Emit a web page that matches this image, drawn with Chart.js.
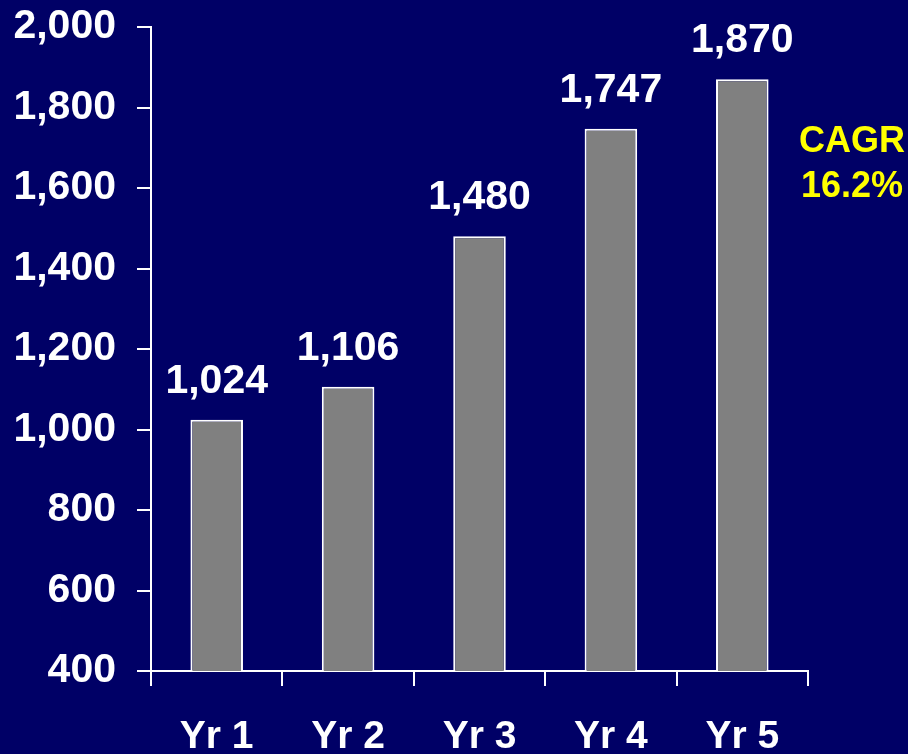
<!DOCTYPE html>
<html>
<head>
<meta charset="utf-8">
<script src="https://cdn.jsdelivr.net/npm/chart.js@4"></script>
<style>
  html, body { margin: 0; padding: 0; background: #000066; }
  #wrap { width: 908px; height: 754px; }
</style>
</head>
<body>
<div id="wrap"><canvas id="c" width="908" height="754"></canvas></div>
<script>
const categories = ["Yr 1", "Yr 2", "Yr 3", "Yr 4", "Yr 5"];
const revenue = [1024, 1106, 1480, 1747, 1870];
const yTicks = [400, 600, 800, 1000, 1200, 1400, 1600, 1800, 2000];
const cagrLines = ["CAGR", "16.2%"];

const FONT = "'Liberation Sans', Arial, sans-serif";
const fmt = v => Number(v).toLocaleString('en-US');

const bgPlugin = {
  id: 'bg',
  beforeDraw(chart) {
    const ctx = chart.ctx;
    ctx.save();
    ctx.fillStyle = '#000066';
    ctx.fillRect(0, 0, chart.width, chart.height);
    ctx.restore();
  }
};

const labelPlugin = {
  id: 'valueLabels',
  afterDatasetsDraw(chart) {
    const ctx = chart.ctx;
    const meta = chart.getDatasetMeta(0);
    ctx.save();
    ctx.fillStyle = '#ffffff';
    ctx.font = 'bold 41px ' + FONT;
    ctx.textAlign = 'center';
    ctx.textBaseline = 'alphabetic';
    meta.data.forEach((bar, i) => {
      ctx.fillText(fmt(revenue[i]), bar.x, bar.y - 27);
    });
    // CAGR annotation
    ctx.fillStyle = '#ffff00';
    ctx.font = 'bold 36px ' + FONT;
    ctx.fillText(cagrLines[0], 852, 152);
    ctx.fillText(cagrLines[1], 852, 197);
    ctx.restore();
  }
};

new Chart(document.getElementById('c'), {
  type: 'bar',
  data: {
    labels: categories,
    datasets: [{
      data: revenue,
      backgroundColor: '#808080',
      borderColor: '#ffffff',
      borderWidth: 2,
      barPercentage: 0.4,
      categoryPercentage: 1.0
    }]
  },
  options: {
    responsive: false,
    animation: false,
    devicePixelRatio: 1,
    layout: { padding: { left: 0, right: 100, top: 27, bottom: 0 } },
    plugins: { legend: { display: false }, tooltip: { enabled: false } },
    scales: {
      x: {
        grid: { offset: true, drawOnChartArea: false, drawTicks: true, tickLength: 15, color: '#ffffff', lineWidth: 2 },
        border: { display: true, color: '#ffffff', width: 2 },
        ticks: { color: '#ffffff', font: { family: FONT, size: 39, weight: 'bold' }, padding: 28, maxRotation: 0 },
        afterFit(s) { s.height = 83; s.paddingLeft = 0; s.paddingRight = 0; }
      },
      y: {
        min: 400, max: 2000,
        afterBuildTicks(s) { s.ticks = yTicks.map(v => ({ value: v })); },
        grid: { drawOnChartArea: false, drawTicks: true, tickLength: 14, color: '#ffffff', lineWidth: 2 },
        border: { display: true, color: '#ffffff', width: 2 },
        ticks: { color: '#ffffff', font: { family: FONT, size: 41, weight: 'bold' }, padding: 21, callback: v => fmt(v) },
        afterFit(s) { s.width = 151; s.paddingTop = 0; s.paddingBottom = 0; }
      }
    }
  },
  plugins: [bgPlugin, labelPlugin]
});
</script>
</body>
</html>
